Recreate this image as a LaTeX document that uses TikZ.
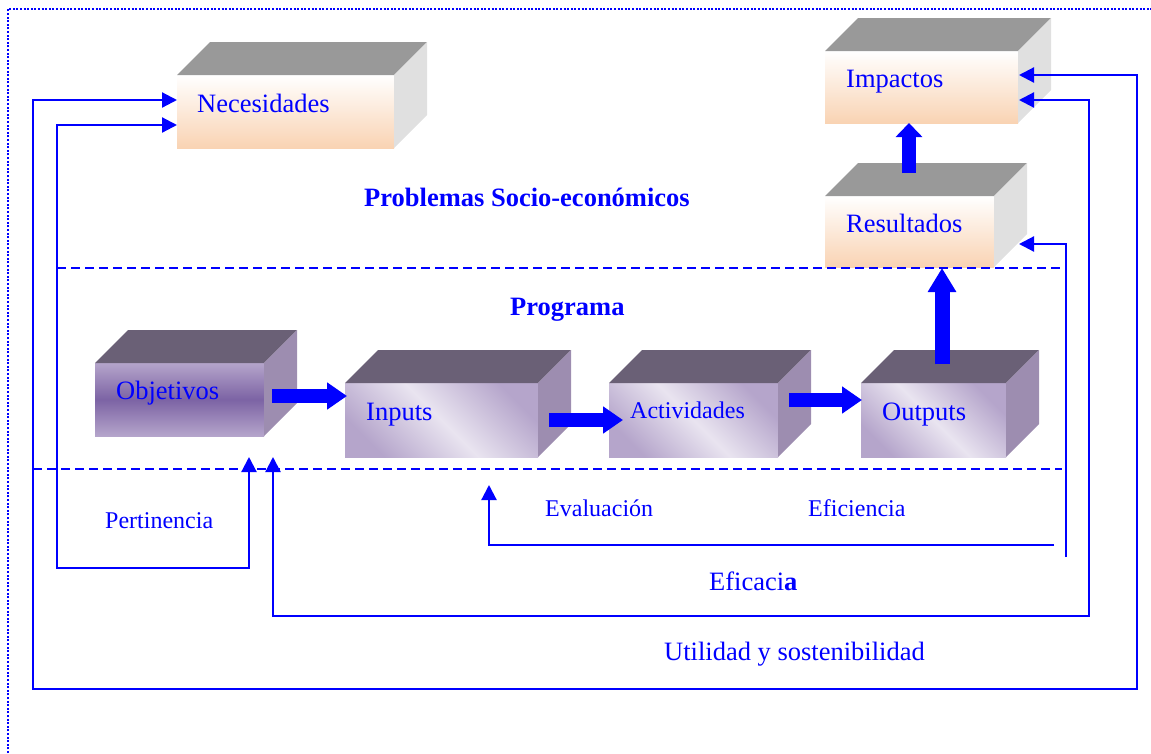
\documentclass[tikz,border=0pt]{standalone}
\usepackage{fontspec}
\setmainfont{Liberation Serif}
\usetikzlibrary{arrows.meta}

\definecolor{txtblue}{RGB}{0,0,255}
\definecolor{peach}{RGB}{249,211,179}
\definecolor{greytop}{RGB}{153,153,153}
\definecolor{greyside}{RGB}{224,224,224}
\definecolor{plumtop}{RGB}{106,96,118}
\definecolor{plumside}{RGB}{157,141,176}
\definecolor{lilac}{RGB}{181,165,203}
\definecolor{lilaclight}{RGB}{233,228,240}
\definecolor{violet}{RGB}{124,99,164}

\tikzset{
  face/.style={inner sep=0pt, outer sep=0pt, anchor=north west},
  peachface/.style={top color=white, bottom color=peach},
  bandface/.style={top color=lilac, bottom color=lilac, middle color=violet},
  sheenface/.style={top color=lilac, bottom color=lilac, middle color=lilaclight, shading angle=-45},
  lbl/.style={text=txtblue, inner sep=0pt, anchor=base west},
  big/.style={lbl, font=\fontsize{26.5pt}{30pt}\selectfont},
  small/.style={lbl, font=\fontsize{24pt}{28pt}\selectfont},
  heading/.style={lbl, font=\fontsize{26.5pt}{30pt}\selectfont\bfseries},
  thinhead/.tip={Triangle[length=15pt,width=15pt]},
  loopline/.style={draw=txtblue, line width=2.2pt},
  bigarrow/.style={draw=txtblue, line width=14pt, -{Triangle[length=20pt,width=26pt]}},
  separator/.style={draw=txtblue, line width=1.8pt, dash pattern=on 9pt off 5pt},
  frame/.style={draw=txtblue, line width=2.2pt, dash pattern=on 2pt off 1.6pt},
}

% cuboid: name, x, y (front top-left), width, height, front style, top colour, side colour
\newcommand\cuboid[8]{%
  \node[face,#6,minimum width=#4pt,minimum height=#5pt] (#1) at (#2,#3) {};
  \fill[#7] (#1.north west) -- ++(33,-33) -- ([shift={(33,-33)}]#1.north east) -- (#1.north east) -- cycle;
  \fill[#8] (#1.north east) -- ++(33,-33) -- ([shift={(33,-33)}]#1.south east) -- (#1.south east) -- cycle;
}

\begin{document}
\begin{tikzpicture}[x=1pt,y=-1pt]
\useasboundingbox (0,0) rectangle (1151,753);

% outer dotted frame
\draw[frame] (8,753) -- (8,9) -- (1151,9);

% boxes
\cuboid{nec}{177}{75}{217}{73}{peachface}{greytop}{greyside}
\cuboid{imp}{825}{51}{193}{72}{peachface}{greytop}{greyside}
\cuboid{res}{825}{196}{169}{71}{peachface}{greytop}{greyside}
\cuboid{obj}{95}{363}{169}{73}{bandface}{plumtop}{plumside}
\cuboid{inp}{345}{383}{193}{74}{sheenface}{plumtop}{plumside}
\cuboid{act}{609}{383}{169}{74}{sheenface}{plumtop}{plumside}
\cuboid{out}{861}{383}{145}{74}{sheenface}{plumtop}{plumside}

% box captions
\node[big] (tnec) at (197,112) {Necesidades};
\node[big] (timp) at (846,87) {Impactos};
\node[big] (tres) at (846,232) {Resultados};
\node[big] (tobj) at (116,399) {Objetivos};
\node[big] (tinp) at (366,420) {Inputs};
\node[small] (tact) at (630,418) {Actividades};
\node[big] (tout) at (882,420) {Outputs};

% zone headings and criteria
\node[heading] (hprob) at (364,206) {Problemas Socio-económicos};
\node[heading] (hprog) at (510,315) {Programa};
\node[small] (lpert) at (105,528) {Pertinencia};
\node[small] (leval) at (545,516) {Evaluación};
\node[small] (lefi) at (808,516) {Eficiencia};
\node[big] (lefc) at (709,590) {Eficaci\textbf{a}};
\node[big] (lutil) at (664,660) {Utilidad y sostenibilidad};

% zone separators
\coordinate (s1a) at (57,268);  \coordinate (s1b) at (1062,268);
\coordinate (s2a) at (33,469);  \coordinate (s2b) at (1062,469);
\draw[separator] (s1a) -- (s1b);
\draw[separator] (s2a) -- (s2b);

% feedback loop ends
\coordinate (necU) at (177,100);
\coordinate (necL) at (177,125);
\coordinate (impU) at (1019,75);
\coordinate (impL) at (1019,100);
\coordinate (resR) at (1019,244);
\coordinate (objL) at (249,457);
\coordinate (objR) at (273,457);
\coordinate (evalTip) at (489,485);
\coordinate (evalStart) at (1054,545);
\coordinate (efiStart) at (1066,557);

% feedback loops
\draw[loopline, thinhead-thinhead] (necU) -| (33,689) -| (1137,75) -- (impU);
\draw[loopline, thinhead-thinhead] (necL) -| (57,568) -| (objL);
\draw[loopline, thinhead-thinhead] (objR) |- (1089,616) |- (impL);
\draw[loopline, -thinhead] (efiStart) |- (resR);
\draw[loopline, -thinhead] (evalStart) -| (evalTip);

% main flow
\coordinate (a1s) at (272,396); \coordinate (a1e) at (347,396);
\coordinate (a2s) at (549,420); \coordinate (a2e) at (623,420);
\coordinate (a3s) at (789,400); \coordinate (a3e) at (862,400);
\coordinate (a4s) at (942,364); \coordinate (a4e) at (942,268);
\coordinate (a5s) at (909,173); \coordinate (a5e) at (909,123);
\draw[bigarrow] (a1s) -- (a1e);
\draw[bigarrow] (a2s) -- (a2e);
\draw[bigarrow] (a3s) -- (a3e);
\draw[draw=txtblue, line width=15pt, -{Triangle[length=24pt,width=27pt]}] (a4s) -- (a4e);
\draw[draw=txtblue, line width=14pt, -{Triangle[length=14pt,width=26pt]}] (a5s) -- (a5e);
\end{tikzpicture}
\end{document}
